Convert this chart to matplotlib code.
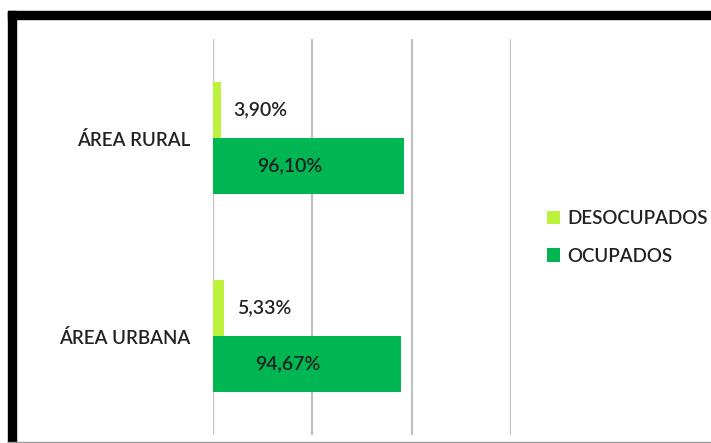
import matplotlib.pyplot as plt
from matplotlib.patches import Rectangle
import numpy as np

plt.rcParams['font.family'] = ['Lato', 'DejaVu Sans']
plt.rcParams['font.weight'] = 'semibold'

# data
categorias = ["ÁREA RURAL", "ÁREA URBANA"]
desocupados = [3.90, 5.33]
ocupados = [96.10, 94.67]
series = ["DESOCUPADOS", "OCUPADOS"]
colores = ["#bdf23c", "#00b652"]

W, H = 711, 443
fig = plt.figure(figsize=(W / 100, H / 100), dpi=100)
# axes in pixel coords: left 213, right 511, top 39, bottom 435
ax = fig.add_axes([213 / W, 1 - 435 / H, (511 - 213) / W, (435 - 39) / H])

y = np.arange(len(categorias))
h = 0.283
ax.barh(y - h / 2, desocupados, height=h, color=colores[0], label=series[0])
ax.barh(y + h / 2, ocupados, height=h, color=colores[1], label=series[1])

def fmt(v):
    return f"{v:.2f}".replace(".", ",") + "%"

for i in range(len(categorias)):
    ax.annotate(fmt(desocupados[i]), (desocupados[i], y[i] - h / 2),
                xytext=(13, 0), textcoords="offset pixels",
                ha="left", va="center", fontsize=14, color="#222222")
    ax.annotate(fmt(ocupados[i]), (ocupados[i] / 2, y[i] + h / 2),
                xytext=(-19, 0), textcoords="offset pixels",
                ha="center", va="center", fontsize=14, color="#222222")

ax.set_xlim(0, 150)
ax.set_ylim(1.5, -0.5)
ax.set_xticks([0, 50, 100, 150])
ax.set_xticklabels([])
ax.set_yticks(y)
ax.set_yticklabels(categorias, fontsize=13.5, color="#222222")
ax.tick_params(length=0, pad=16.5)
ax.grid(axis="x", color="#c0c0c0", lw=1.6)
ax.set_axisbelow(True)
for s in ax.spines.values():
    s.set_visible(False)

leg = fig.legend(loc="upper left", bbox_to_anchor=(530 / W, 1 - 193 / H),
                 frameon=False, fontsize=13.5, handlelength=0.7, handleheight=0.7,
                 handletextpad=0.4, labelspacing=1.1)
for t in leg.get_texts():
    t.set_color("#222222")

# frame of the picture
tr = fig.transFigure
fig.add_artist(Rectangle((8 / W, 1 - 19 / H), 1, 8 / H, transform=tr, color="black"))
fig.add_artist(Rectangle((8 / W, 0), 8 / W, 1 - 11 / H, transform=tr, color="black"))
fig.add_artist(Rectangle((8 / W, 1 - 443 / H), 1, 1.5 / H, transform=tr, color="#999999"))

fig.savefig("out.png", dpi=100)
